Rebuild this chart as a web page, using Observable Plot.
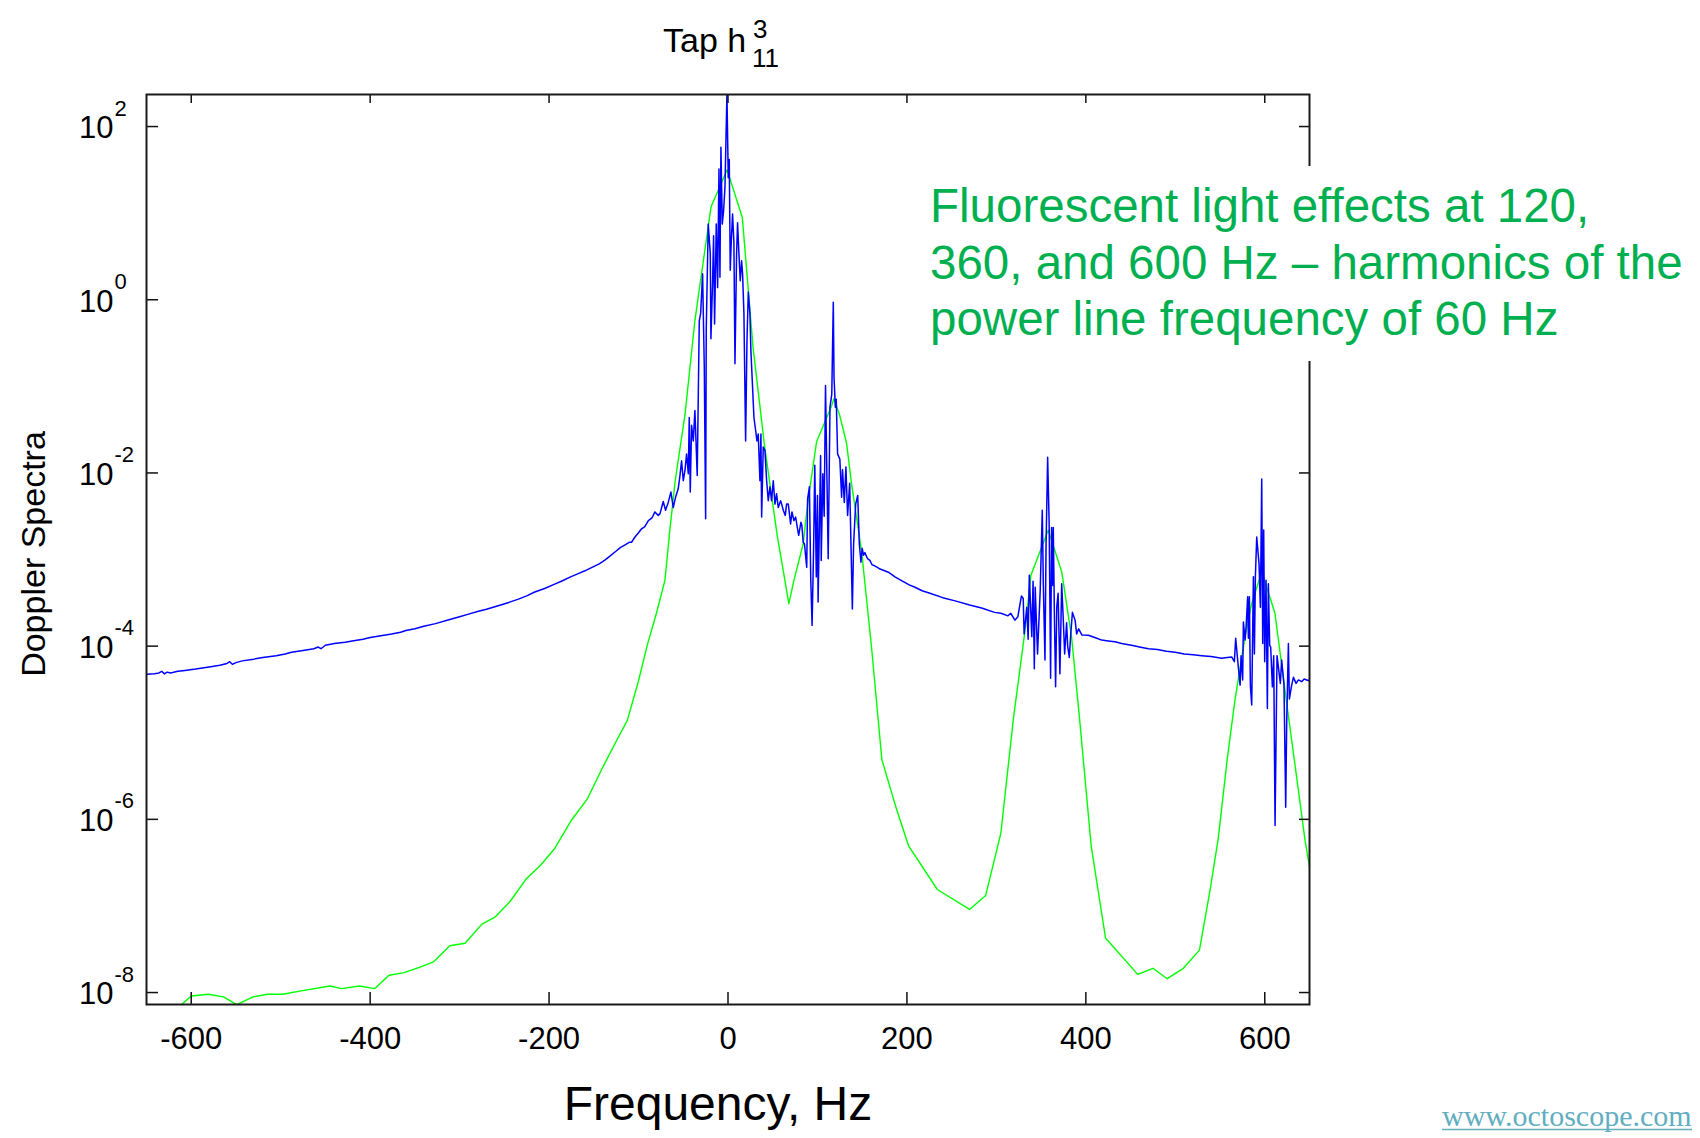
<!DOCTYPE html>
<html>
<head>
<meta charset="utf-8">
<script src="https://cdn.jsdelivr.net/npm/d3@7"></script>
<script src="https://cdn.jsdelivr.net/npm/@observablehq/plot@0.6"></script>
<style>
  html, body { margin: 0; padding: 0; background: #fff; }
  #wrap { position: relative; width: 1700px; height: 1138px; overflow: hidden; background: #fff; }
  #wrap svg { display: block; }
  #overlay { position: absolute; left: 0; top: 0; pointer-events: none; }
</style>
</head>
<body>
<div id="wrap"></div>
<script>
// ---- Data (frequency in Hz, spectrum as log10 of the value) ----
const xTicks = [-600, -400, -200, 0, 200, 400, 600];
const yTicks = [1e-8, 1e-6, 1e-4, 1e-2, 1, 100];

// Measured Doppler spectrum (blue): [frequency Hz, log10(spectrum)]
const blueSpectrum = [
  [-650,-4.325],[-641,-4.32],[-636,-4.31],[-633,-4.29],[-630,-4.32],[-627,-4.30],[-623,-4.31],[-615,-4.29],
  [-607,-4.28],[-595,-4.265],[-580,-4.24],[-568,-4.22],[-560,-4.20],[-557,-4.18],[-554,-4.21],[-550,-4.19],
  [-543,-4.17],[-530,-4.15],[-520,-4.13],[-505,-4.11],[-495,-4.09],[-488,-4.07],[-475,-4.05],[-463,-4.03],
  [-458,-4.01],[-455,-4.03],[-450,-3.99],[-440,-3.97],[-428,-3.955],[-420,-3.94],[-408,-3.92],[-400,-3.90],
  [-388,-3.88],[-376,-3.86],[-366,-3.84],[-360,-3.82],[-350,-3.80],[-340,-3.77],[-327,-3.74],[-312,-3.695],
  [-300,-3.66],[-290,-3.63],[-280,-3.60],[-270,-3.575],[-256,-3.53],[-245,-3.495],[-235,-3.46],[-225,-3.42],
  [-216,-3.375],[-205,-3.335],[-195,-3.29],[-185,-3.245],[-176,-3.20],[-168,-3.165],[-160,-3.13],[-152,-3.09],
  [-144,-3.05],[-138,-3.01],[-132,-2.96],[-126,-2.91],[-120,-2.86],[-115,-2.83],[-110,-2.80],[-107.8,-2.80],
  [-104,-2.74],[-100,-2.69],[-96.6,-2.645],[-93,-2.62],[-89,-2.55],[-85,-2.52],[-81.7,-2.45],[-78,-2.49],
  [-76,-2.47],[-72.4,-2.33],[-69.8,-2.43],[-66.8,-2.34],[-63.8,-2.22],[-61.2,-2.40],[-58.6,-2.28],[-55.6,-2.18],
  [-53.7,-2.03],[-51.9,-1.86],[-50,-2.09],[-48.1,-1.97],[-46.3,-1.78],[-44.4,-2.01],[-43.3,-1.36],[-42.2,-2.22],
  [-40.7,-1.45],[-38.8,-1.63],[-37,-1.28],[-34.4,-2.03],[-32.1,-0.24],[-30.6,-0.16],[-28.4,0.30],[-26.5,-0.78],
  [-25,-2.53],[-24.3,-0.34],[-22.1,0.874],[-19.8,0.53],[-19.1,-0.45],[-17.2,0.22],[-16.1,0.74],[-15,-0.28],
  [-13.1,0.874],[-11.6,0.14],[-10.1,1.51],[-9,0.26],[-7.9,1.76],[-6.4,0.874],[-4.9,1.03],[-3.4,1.30],
  [-1.2,2.37],[0.3,1.41],[1.4,1.62],[2.5,0.34],[3.7,0.68],[5.1,0.99],[6.6,0.66],[7.8,-0.74],
  [9.6,0.53],[10.7,0.89],[12.2,0.53],[13.7,0.22],[15.2,0.45],[16.3,0.30],[17.8,-0.16],[19.7,-1.63],
  [21.2,-0.47],[22.7,0.09],[24.5,-0.16],[25.6,-0.59],[27.1,-0.93],[29,-1.36],[30.9,-1.51],[32.3,-1.63],
  [33.8,-1.55],[35.7,-2.09],[36.8,-1.55],[37.6,-2.51],[39.4,-1.70],[41.3,-1.74],[43.2,-2.09],[45,-2.32],
  [46.9,-2.16],[48.7,-2.32],[50.6,-2.09],[52.5,-2.36],[54.3,-2.24],[56.2,-2.40],[58.8,-2.32],[60,-2.36],
  [61.8,-2.43],[64,-2.49],[65.5,-2.36],[67.4,-2.36],[70,-2.59],[71.5,-2.45],[73.7,-2.55],[75.6,-2.51],
  [77.5,-2.63],[79,-2.72],[81.5,-2.57],[82.5,-2.60],[84.1,-2.80],[85.5,-2.82],[88,-3.09],[89,-2.30],
  [91,-2.16],[92.5,-3.23],[94,-3.76],[95.7,-2.87],[97,-1.91],[98.7,-3.20],[100,-2.26],[100.7,-3.49],
  [103.5,-1.80],[104.2,-3.01],[106,-2.01],[107.5,-2.5],[109,-0.99],[112,-2.99],[114,-1.24],[116,-1.09],
  [117.7,-0.03],[118.5,-0.895],[120,-1.24],[121,-1.15],[122.5,-1.78],[125,-1.84],[127,-2.28],[128,-1.96],
  [130,-2.34],[131.8,-1.93],[133.7,-2.49],[136,-2.12],[139,-3.57],[140.4,-2.82],[142.7,-2.36],[145,-2.26],
  [146.8,-2.82],[148.6,-3.03],[150,-2.87],[151.5,-2.95],[153,-2.92],[156,-2.99],[158.6,-3.01],[161,-3.06],
  [163.5,-3.07],[167,-3.09],[170,-3.11],[175,-3.13],[180,-3.15],[186.6,-3.20],[195,-3.25],[202,-3.29],
  [209,-3.32],[217,-3.36],[225.7,-3.39],[240,-3.44],[255,-3.48],[270,-3.525],[283.5,-3.56],[298,-3.61],
  [305,-3.62],[313,-3.65],[316,-3.62],[320.7,-3.70],[324,-3.66],[328,-3.42],[330,-3.45],[331,-3.86],
  [334,-3.55],[335.5,-3.92],[336.8,-3.18],[339.6,-3.89],[341,-3.25],[342.4,-4.26],[343.4,-3.32],[344.5,-3.65],
  [346,-4.09],[349,-3.35],[351.3,-2.43],[352.5,-3.30],[354.3,-4.16],[355.5,-2.85],[357.3,-1.82],[359,-2.59],
  [360.6,-4.37],[361.7,-2.63],[362.7,-3.30],[363.6,-2.63],[365,-3.75],[366.2,-4.47],[367.5,-3.55],[369,-3.39],
  [371,-4.32],[373,-3.28],[374.8,-3.70],[376.3,-4.09],[378.5,-3.73],[379.7,-4.0],[381.5,-4.13],[383.2,-3.85],
  [385,-3.61],[388,-3.70],[389.7,-3.86],[392,-3.80],[395.5,-3.87],[402.8,-3.875],[410,-3.90],[417.7,-3.93],
  [425,-3.94],[432.5,-3.95],[440,-3.97],[451,-3.99],[460,-4.01],[470,-4.03],[480,-4.04],[490,-4.06],
  [500,-4.07],[510,-4.09],[520,-4.10],[529.5,-4.11],[540,-4.12],[551.9,-4.14],[558,-4.13],[563,-4.125],
  [566,-4.18],[567.5,-3.91],[569.7,-4.16],[572.4,-4.45],[573.5,-4.11],[575.3,-4.39],[576.1,-3.72],[578,-3.93],
  [579.1,-3.78],[580.9,-3.43],[581.7,-3.91],[582.8,-3.43],[583.9,-4.45],[585.4,-4.68],[587.3,-3.20],[588.4,-4.09],
  [589.5,-3.20],[591,-2.74],[593.6,-3.05],[595.1,-3.55],[596.6,-2.07],[597.7,-3.97],[598.8,-2.66],[599.9,-4.18],
  [601.4,-3.24],[602.9,-4.72],[604,-3.28],[605.5,-3.99],[606.6,-4.01],[608.5,-4.47],[610,-4.11],[611.5,-6.07],
  [613.7,-4.11],[615.2,-4.24],[617.4,-4.43],[618.9,-4.16],[621.5,-4.45],[623.4,-5.86],[624.5,-4.89],[626.4,-3.97],
  [627.5,-4.61],[630.1,-4.45],[632,-4.36],[635,-4.43],[637.6,-4.39],[641.3,-4.41],[644,-4.38],[646.9,-4.39],
  [650,-4.40]
];

// Smoothed / model spectrum (green): [frequency Hz, log10(spectrum)]
const greenSpectrum = [
  [-650,-8.14],[-640,-8.2],[-620,-8.25],[-611,-8.14],[-600,-8.04],[-581,-8.02],[-564,-8.05],[-549,-8.14],
  [-531,-8.05],[-515,-8.02],[-498,-8.02],[-477,-7.98],[-445,-7.925],[-432,-7.955],[-412,-7.925],[-395,-7.955],
  [-379,-7.80],[-362,-7.77],[-345,-7.71],[-329,-7.645],[-311,-7.46],[-294,-7.43],[-275,-7.21],[-260,-7.125],
  [-243,-6.94],[-225.7,-6.69],[-209.5,-6.53],[-194,-6.34],[-175,-6.01],[-157,-5.76],[-140.6,-5.41],[-124.5,-5.09],
  [-112.6,-4.86],[-100,-4.40],[-90,-3.98],[-80,-3.62],[-70.5,-3.24],[-65,-2.66],[-59,-2.09],[-48,-1.32],
  [-37,-0.24],[-19,1.07],[-1,1.50],[16,0.95],[28,-0.55],[41,-1.70],[55,-2.72],[63.6,-3.24],
  [68,-3.51],[73.7,-3.24],[84,-2.82],[89,-2.36],[99,-1.64],[116,-1.22],[118.5,-1.14],[125,-1.34],
  [132.6,-1.66],[138,-2.12],[149.4,-2.91],[160.6,-4.03],[172,-5.31],[188,-5.87],[202,-6.31],[234,-6.81],
  [270,-7.04],[288,-6.88],[305,-6.16],[319,-4.84],[332,-3.82],[338.6,-3.18],[358,-2.66],[373,-3.14],
  [384,-3.89],[393,-4.84],[406,-6.31],[422,-7.37],[458,-7.79],[475,-7.72],[491,-7.84],[509,-7.72],
  [527,-7.51],[539,-6.81],[548,-6.22],[558,-5.31],[566.7,-4.62],[578,-3.89],[585.3,-3.51],[596.6,-3.14],
  [611.4,-3.62],[624.5,-4.66],[633.8,-5.37],[645,-6.24],[650,-6.55]
];

const blueData = blueSpectrum.map(([f, lg]) => ({f, v: Math.pow(10, lg)}));
const greenData = greenSpectrum.map(([f, lg]) => ({f, v: Math.pow(10, lg)}));

// ---- Layout ----
const W = 1700, H = 1138;
const mL = 146, mR = 391, mT = 94, mB = 134;
const frameW = W - mL - mR, frameH = H - mT - mB;
const FONT = "'Liberation Sans', Arial, Helvetica, sans-serif";

const chart = Plot.plot({
  width: W, height: H,
  marginLeft: mL, marginRight: mR, marginTop: mT, marginBottom: mB,
  style: {fontFamily: FONT, background: "#fff", color: "#000"},
  x: {domain: [-650, 650], label: null},
  y: {type: "log", domain: [Math.pow(10, -8.138), Math.pow(10, 2.37)], axis: null},
  marks: [
    Plot.line(greenData, {x: "f", y: "v", stroke: "#00ff00", strokeWidth: 1.4, clip: true}),
    Plot.line(blueData, {x: "f", y: "v", stroke: "#0000ff", strokeWidth: 1.5, clip: true}),
    // inward ticks (bottom, top, left, right)
    Plot.tickX(xTicks, {x: d => d, insetTop: frameH - 12, stroke: "#111", strokeWidth: 1.5}),
    Plot.tickX(xTicks, {x: d => d, insetBottom: frameH - 9, stroke: "#111", strokeWidth: 1.5}),
    Plot.tickY(yTicks, {y: d => d, insetRight: frameW - 12, stroke: "#111", strokeWidth: 1.5}),
    Plot.tickY(yTicks, {y: d => d, insetLeft: frameW - 10, stroke: "#111", strokeWidth: 1.5}),
    Plot.frame({stroke: "#1a1a1a", strokeWidth: 2}),
    Plot.axisX({ticks: xTicks, tickSize: 0, tickPadding: 22, fontSize: 31, tickFormat: d => String(d), label: null}),
    Plot.text(yTicks, {y: d => d, text: () => "10", frameAnchor: "left", textAnchor: "end", dx: -33, dy: 2, fontSize: 31, fill: "#000"}),
    Plot.text(yTicks, {y: d => d, text: d => String(Math.round(Math.log10(d))), frameAnchor: "left", textAnchor: "start", dx: -32, dy: -18, fontSize: 22, fill: "#000"})
  ]
});

const wrap = document.getElementById("wrap");
wrap.appendChild(chart);

// ---- Titles, axis labels, annotation and credit as text overlay ----
const NS = "http://www.w3.org/2000/svg";
const ov = document.createElementNS(NS, "svg");
ov.setAttribute("id", "overlay");
ov.setAttribute("width", W);
ov.setAttribute("height", H);
ov.setAttribute("font-family", FONT);
function addText(str, attrs) {
  const t = document.createElementNS(NS, "text");
  for (const k in attrs) t.setAttribute(k, attrs[k]);
  t.textContent = str;
  ov.appendChild(t);
  return t;
}
// title: Tap h^3_11
addText("Tap h", {x: 663, y: 52, "font-size": 34, fill: "#000"});
addText("3", {x: 753, y: 38, "font-size": 26, fill: "#000"});
addText("11", {x: 752, y: 67, "font-size": 26, fill: "#000"});
// axis titles
addText("Doppler Spectra", {x: 0, y: 0, transform: "translate(45,554) rotate(-90)", "text-anchor": "middle", "font-size": 34, fill: "#000"});
addText("Frequency, Hz", {x: 718, y: 1120, "text-anchor": "middle", "font-size": 48, fill: "#000"});
// annotation box
const bg = document.createElementNS(NS, "rect");
bg.setAttribute("x", 926); bg.setAttribute("y", 166);
bg.setAttribute("width", 774); bg.setAttribute("height", 195);
bg.setAttribute("fill", "#fff");
ov.appendChild(bg);
const noteLines = ["Fluorescent light effects at 120,", "360, and 600 Hz \u2013 harmonics of the", "power line frequency of 60 Hz"];
noteLines.forEach((s, i) => addText(s, {x: 930, y: 222 + i * 56.7, "font-size": 47.5, fill: "#00b050"}));
// credit
addText("www.octoscope.com", {x: 1442, y: 1126, "font-size": 30, fill: "#62aebf", "font-family": "'Liberation Serif', 'DejaVu Serif', serif"});
const ul = document.createElementNS(NS, "line");
ul.setAttribute("x1", 1442); ul.setAttribute("x2", 1692);
ul.setAttribute("y1", 1129.5); ul.setAttribute("y2", 1129.5);
ul.setAttribute("stroke", "#62aebf"); ul.setAttribute("stroke-width", 1.5);
ov.appendChild(ul);
wrap.appendChild(ov);
</script>
</body>
</html>
